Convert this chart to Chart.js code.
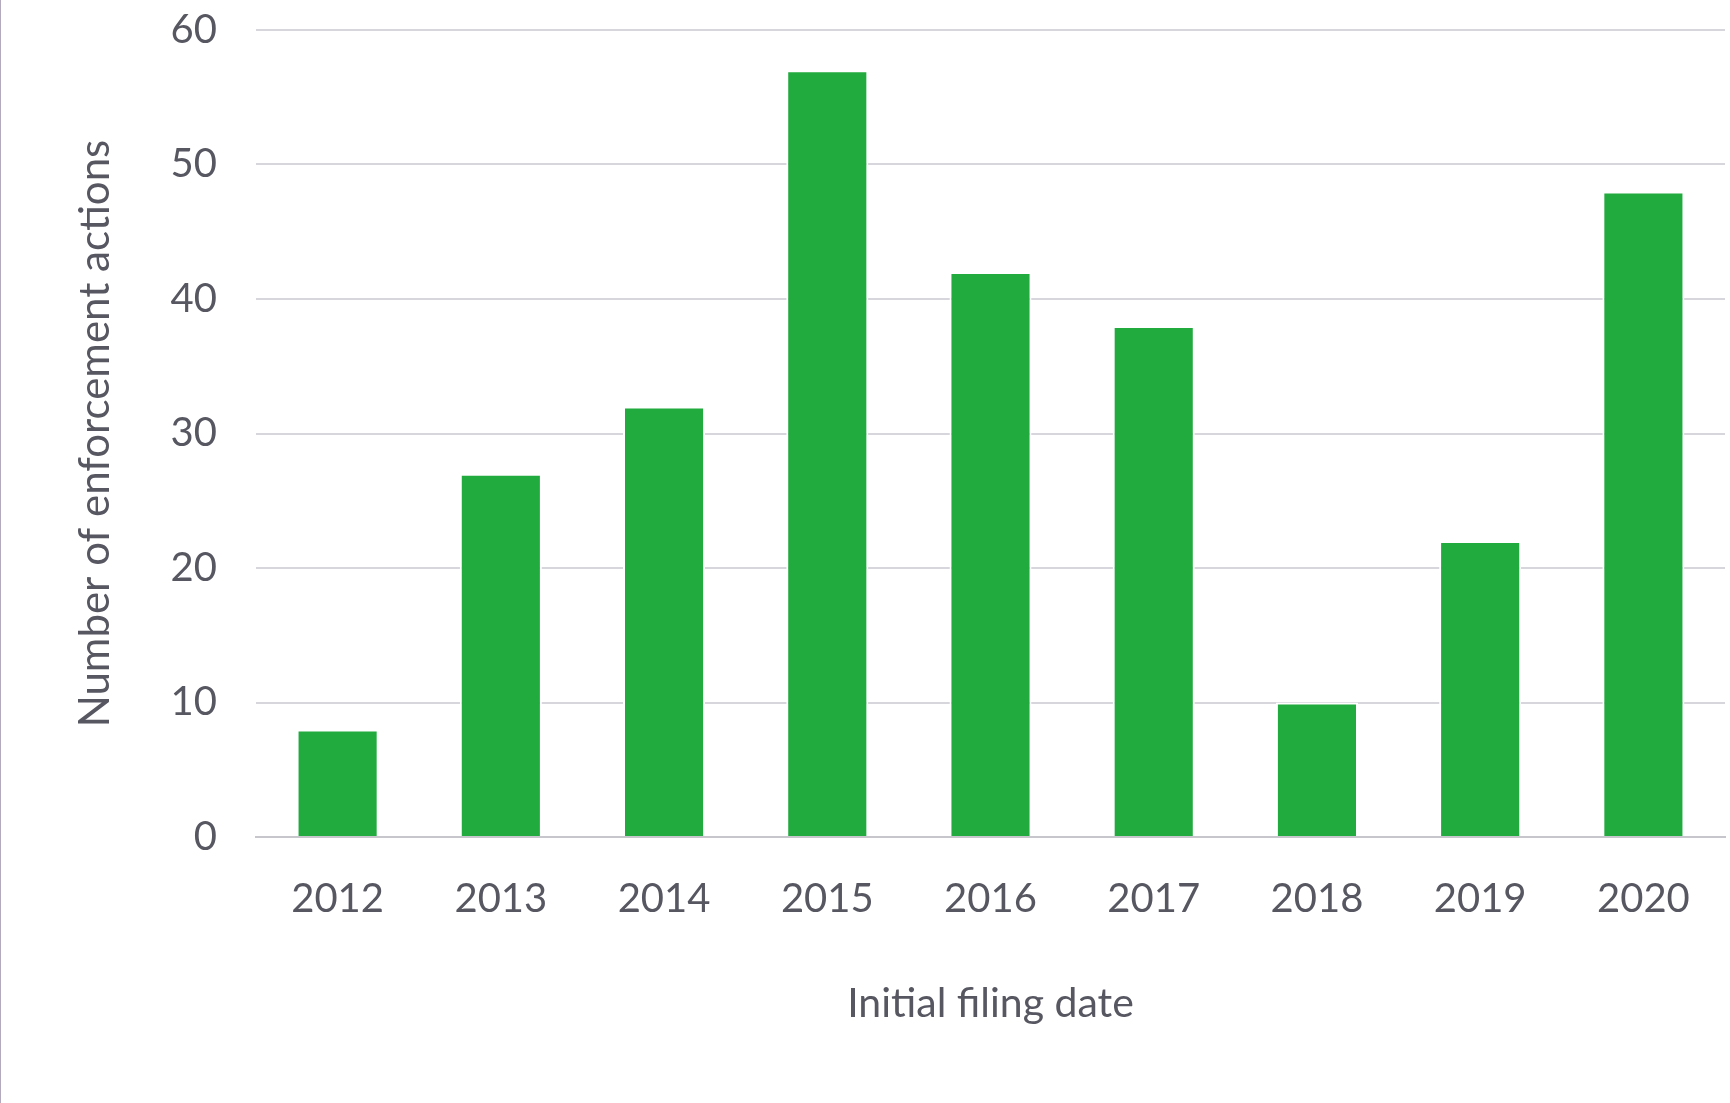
<!DOCTYPE html>
<html>
<head>
<meta charset="utf-8">
<title>Enforcement actions by initial filing date</title>
<script src="https://cdn.jsdelivr.net/npm/chart.js@4.4.0/dist/chart.umd.min.js"></script>
<style>
    html, body { margin: 0; padding: 0; background: #ffffff; }
    #wrap { position: relative; width: 1730px; height: 1103px; }
    #edge { position: absolute; left: 0; top: 0; width: 1px; height: 1103px; background: #b4aabd; }
</style>
</head>
<body>
<div id="wrap">
    <canvas id="grafico" width="1730" height="1103"></canvas>
    <div id="edge"></div>
</div>
<script>
// datos
const years = ["2012", "2013", "2014", "2015", "2016", "2017", "2018", "2019", "2020"];
const actions = [8, 27, 32, 57, 42, 38, 10, 22, 48];
const yTicks = [0, 10, 20, 30, 40, 50, 60];

const textColor = "#575762";
const gridColor = "#d6d6dc";
const fuente = "Lato, 'Noto Sans', sans-serif";

document.addEventListener("DOMContentLoaded", function () {
    const ctx = document.getElementById("grafico").getContext("2d");
    new Chart(ctx, {
        type: "bar",
        data: {
            labels: years,
            datasets: [{
                label: "Number of enforcement actions",
                data: actions,
                backgroundColor: "#21aa3d",
                borderColor: "#ffffff",
                borderWidth: 2,
                categoryPercentage: 1,
                barPercentage: 0.503
            }]
        },
        options: {
            responsive: false,
            animation: false,
            devicePixelRatio: 1,
            layout: { padding: { top: 30, right: 5, left: 0, bottom: 0 } },
            plugins: {
                legend: { display: false },
                tooltip: { enabled: false }
            },
            scales: {
                x: {
                    grid: { display: false, drawTicks: false },
                    border: { display: true, color: "#c6c6cc", width: 2 },
                    ticks: {
                        color: textColor,
                        font: { family: fuente, size: 40 },
                        padding: 38,
                        maxRotation: 0
                    },
                    title: {
                        display: true,
                        text: "Initial filing date",
                        color: textColor,
                        font: { family: fuente, size: 41 },
                        padding: { top: 0, bottom: 75 }
                    },
                    afterFit: function (scale) { scale.height = 266; }
                },
                y: {
                    min: 0,
                    max: 60,
                    afterBuildTicks: function (scale) {
                        scale.ticks = yTicks.map(v => ({ value: v }));
                    },
                    grid: { color: gridColor, lineWidth: 2, drawTicks: false },
                    border: { display: false },
                    ticks: {
                        color: textColor,
                        font: { family: fuente, size: 40 },
                        padding: 39
                    },
                    title: {
                        display: true,
                        text: "Number of enforcement actions",
                        color: textColor,
                        font: { family: fuente, size: 42 },
                        padding: { top: 70, bottom: 0 }
                    },
                    afterFit: function (scale) {
                        scale.width = 256;
                        // el padding de los ticks empuja el area hacia abajo
                        scale.paddingTop = 0;
                        scale.paddingBottom = 0;
                    }
                }
            }
        }
    });
});
</script>
</body>
</html>
